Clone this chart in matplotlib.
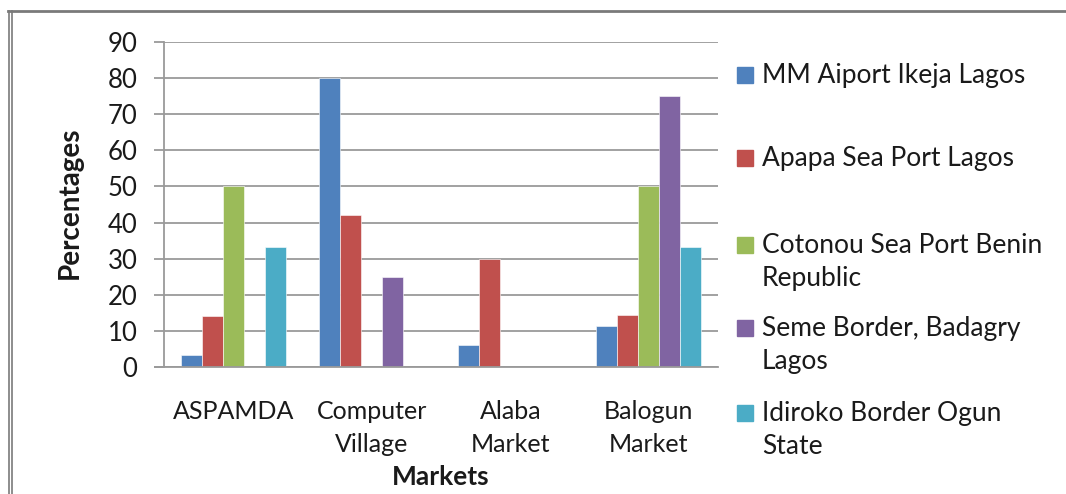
import numpy as np
import matplotlib
matplotlib.use("Agg")
import matplotlib.pyplot as plt
from matplotlib.lines import Line2D
from matplotlib.patches import Rectangle

plt.rcParams['font.family'] = ['Lato', 'DejaVu Sans']

markets = ['ASPAMDA', 'Computer\nVillage', 'Alaba\nMarket', 'Balogun\nMarket']
series = ['MM Aiport Ikeja Lagos', 'Apapa Sea Port Lagos',
          'Cotonou Sea Port Benin\nRepublic', 'Seme Border, Badagry\nLagos',
          'Idiroko Border Ogun\nState']
mm_airport = [3.3, 80, 6, 11.3]
apapa = [14, 42.2, 30, 14.3]
cotonou = [50, 0, 0, 50]
seme = [0, 25, 0, 75]
idiroko = [33.3, 0, 0, 33.3]
colors = ['#4F81BD', '#C0504D', '#9BBB59', '#8064A2', '#4BACC6']

values = [mm_airport, apapa, cotonou, seme, idiroko]
txt = '#1a1a1a'

fig = plt.figure(figsize=(10.66, 4.94), dpi=100)
ax = fig.add_axes([164 / 1066, 1 - 367 / 494, (718 - 164) / 1066, (367 - 42) / 494])

x = np.arange(len(markets))
w = 0.152
for i, vals in enumerate(values):
    ax.bar(x + (i - 2) * w, vals, w, color=colors[i], edgecolor='white',
           linewidth=0.4, zorder=3)

ax.set_xlim(-0.5, len(markets) - 0.5)
ax.set_ylim(0, 90)
ax.set_yticks(range(0, 91, 10))
ax.yaxis.grid(True, color='#9a9a9a', linewidth=1.3, zorder=0)
for s in ['top', 'right', 'bottom']:
    ax.spines[s].set_visible(False)
ax.spines['left'].set_color('#9a9a9a')
ax.spines['left'].set_linewidth(1.3)
ax.tick_params(axis='y', length=7, width=1.3, color='#9a9a9a', labelsize=18.5,
               labelcolor=txt, pad=12)
ax.set_xticks(x)
ax.set_xticklabels(markets, fontsize=18, color=txt, linespacing=1.5)
ax.tick_params(axis='x', length=0, pad=24)
ax.axhline(0, color='#9a9a9a', linewidth=1.3, xmin=-0.017, clip_on=False, zorder=4)

ax.text(70 / 1066, 1 - 203 / 494, 'Percentages', transform=fig.transFigure,
        rotation=90, fontsize=20, fontweight='bold', color=txt,
        ha='center', va='center')
ax.text(441 / 1066, 1 - 477 / 494, 'Markets', transform=fig.transFigure,
        fontsize=19, fontweight='bold', color=txt, ha='center', va='center')

# legend drawn by hand so squares line up with the first line of text
leg_y = [75, 158, 245, 328, 413]
for i, lab in enumerate(series):
    y = 1 - leg_y[i] / 494
    fig.add_artist(Rectangle((737 / 1066, y - 8 / 494), 16 / 1066, 16 / 494,
                             transform=fig.transFigure, color=colors[i]))
    fig.text(762 / 1066, y + 12 / 494, lab, fontsize=19, color=txt,
             va='top', ha='left', linespacing=1.42)

# outer frame
fig.add_artist(Line2D([8 / 1066, 1], [1 - 11 / 494, 1 - 11 / 494],
                      transform=fig.transFigure, color='#7a7a7a', linewidth=2))
fig.add_artist(Line2D([8.5 / 1066, 8.5 / 1066], [0, 1 - 11 / 494],
                      transform=fig.transFigure, color='#7a7a7a', linewidth=1.2))
fig.add_artist(Line2D([11.5 / 1066, 11.5 / 1066], [0, 1 - 11 / 494],
                      transform=fig.transFigure, color='#7a7a7a', linewidth=1.2))

fig.savefig('out.png', dpi=100)
